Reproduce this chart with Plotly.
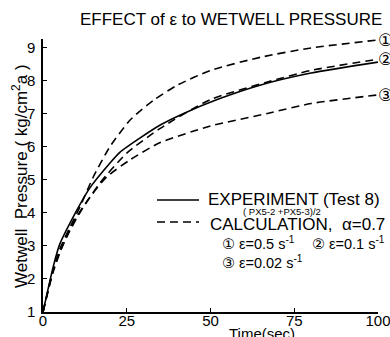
import plotly.graph_objects as go

# Experiment (Test 8), solid curve
t_exp = [0, 3, 5, 9, 14, 20, 23, 29, 35, 42, 52, 65, 80, 100]
p_exp = [1.0, 2.35, 3.05, 3.87, 4.75, 5.5, 5.83, 6.26, 6.65, 7.0, 7.42, 7.86, 8.22, 8.55]

# Calculation, eps = 0.5 s^-1 (1)
t_c1 = [0, 3, 5, 8, 11, 15, 20, 26, 33, 40, 50, 65, 80, 100]
p_c1 = [1.0, 2.25, 2.9, 3.55, 4.17, 5.08, 6.0, 6.8, 7.4, 7.85, 8.3, 8.7, 8.98, 9.22]

# Calculation, eps = 0.1 s^-1 (2)
t_c2 = [0, 3, 5, 8, 11, 17, 25, 35, 50, 67, 80, 100]
p_c2 = [1.0, 2.25, 2.8, 3.45, 4.0, 4.9, 5.8, 6.55, 7.42, 7.95, 8.3, 8.64]

# Calculation, eps = 0.02 s^-1 (3)
t_c3 = [0, 3, 7, 10, 14, 19, 26, 35, 50, 67, 80, 100]
p_c3 = [1.0, 2.2, 3.3, 3.87, 4.47, 5.08, 5.6, 6.12, 6.62, 7.0, 7.3, 7.56]

x_ticks = [0, 25, 50, 75, 100]
y_ticks = [1, 2, 3, 4, 5, 6, 7, 8, 9]
end_labels = ["①", "②", "③"]

FONT = "Liberation Sans, Arial, DejaVu Sans, sans-serif"
DASH = "8px,5px"

fig = go.Figure()
fig.add_trace(go.Scatter(x=t_exp, y=p_exp, mode="lines",
                         line=dict(color="black", width=1.6, shape="spline", smoothing=0.6)))
for tt, pp in [(t_c1, p_c1), (t_c2, p_c2), (t_c3, p_c3)]:
    fig.add_trace(go.Scatter(x=tt, y=pp, mode="lines",
                             line=dict(color="black", width=1.6, dash=DASH, shape="spline", smoothing=0.6)))

annotations = []
for lab, tt, pp in zip(end_labels, [t_c1, t_c2, t_c3], [p_c1, p_c2, p_c3]):
    annotations.append(dict(x=tt[-1], y=pp[-1], xref="x", yref="y", text=lab, showarrow=False,
                            xanchor="left", xshift=-2,
                            font=dict(size=17, family="DejaVu Sans", color="black")))


def px_to_paper(px, py):
    # px, py: page pixel coordinates; plot area spans x 43..378, y 39..312 on the page
    return (px - 43) / 335, (312 - py) / 273


def add_text(px, py, text, size, anchor="left", angle=0):
    x, y = px_to_paper(px, py)
    annotations.append(dict(x=x, y=y, xref="paper", yref="paper", text=text, showarrow=False,
                            xanchor=anchor, yanchor="middle", textangle=angle, borderpad=0,
                            font=dict(size=size, family=FONT, color="black")))


add_text(231, 19, "EFFECT of ε to WETWELL PRESSURE", 17, anchor="center")
add_text(207, 199.5, "EXPERIMENT (Test 8)", 17)
add_text(282, 211, "( PX5-2 +PX5-3)/2", 9.5, anchor="center")
add_text(209, 224.5, "CALCULATION,  α=0.7", 17)
add_text(221, 243, "① ε=0.5 s<sup>-1</sup>", 14.5)
add_text(311, 243, "② ε=0.1 s<sup>-1</sup>", 14.5)
add_text(221, 262, "③ ε=0.02 s<sup>-1</sup>", 14.5)
add_text(20, 176, "Wetwell  Pressure ( kg/cm<sup>2</sup>a )", 17, anchor="center", angle=-90)
add_text(262, 333, "Time(sec)", 15, anchor="center")

shapes = []
x0, y0 = px_to_paper(157, 200)
x1, _ = px_to_paper(199, 200)
shapes.append(dict(type="line", xref="paper", yref="paper", x0=x0, x1=x1, y0=y0, y1=y0,
                   line=dict(color="black", width=1.6)))
_, y2 = px_to_paper(157, 222)
shapes.append(dict(type="line", xref="paper", yref="paper", x0=x0, x1=x1, y0=y2, y1=y2,
                   line=dict(color="black", width=1.6, dash=DASH)))

fig.update_layout(
    width=390, height=337,
    margin=dict(l=43, r=12, t=39, b=25, autoexpand=False),
    paper_bgcolor="white", plot_bgcolor="white",
    showlegend=False,
    annotations=annotations,
    shapes=shapes,
    font=dict(family=FONT, color="black"),
)
fig.update_xaxes(range=[0, 100], tickvals=x_ticks, ticks="inside", ticklen=4, tickcolor="black",
                 showline=True, linecolor="black", linewidth=1.5, showgrid=False, zeroline=False,
                 automargin=False, ticklabeloverflow="allow",
                 tickfont=dict(size=15, family=FONT, color="black"), ticklabelstandoff=-6)
fig.update_yaxes(range=[1, 9.25], tickvals=y_ticks, ticks="inside", ticklen=4, tickcolor="black",
                 showline=True, linecolor="black", linewidth=1.5, showgrid=False, zeroline=False,
                 automargin=False, ticklabeloverflow="allow",
                 tickfont=dict(size=15, family=FONT, color="black"), ticklabelstandoff=3)

fig.write_html(
    "out.html",
    config={"displayModeBar": False},
    post_script="document.body.style.margin='0';document.body.style.overflow='hidden';",
)
